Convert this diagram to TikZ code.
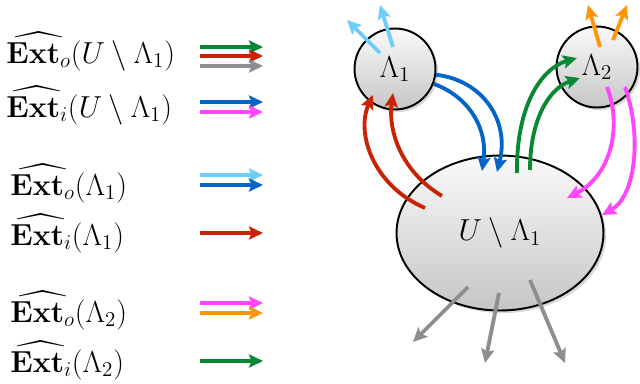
\documentclass[tikz,border=0pt]{standalone}
\usepackage{amsmath}
\usepackage{amssymb}
\usepackage{tikz}
\usetikzlibrary{arrows.meta,shapes.geometric,shadows}

\definecolor{cgreen}{RGB}{10,135,50}
\definecolor{cred}{RGB}{200,35,5}
\definecolor{cgray}{RGB}{140,142,146}
\definecolor{cblue}{RGB}{5,100,200}
\definecolor{cmag}{RGB}{255,70,255}
\definecolor{ccyan}{RGB}{110,205,250}
\definecolor{corange}{RGB}{255,150,10}

\newcommand{\Exto}{\widehat{\mathbf{Ext}_o}}
\newcommand{\Exti}{\widehat{\mathbf{Ext}_i}}

\begin{document}
\begin{tikzpicture}[x=0.02cm, y=-0.02cm,
  arr/.style={line width=2.2pt, -{Stealth[length=8pt,width=7.5pt,inset=1.5pt]}},
  blob/.style={draw, line width=1.1pt, top color=gray!4, bottom color=gray!45,
    drop shadow={opacity=0.3,shadow xshift=1.5pt,shadow yshift=-1.5pt},
    inner sep=0pt, font=\fontsize{18}{22}\selectfont},
  lbl/.style={anchor=base west, inner sep=0pt, font=\fontsize{18.5}{22}\selectfont}]
  \useasboundingbox (0,0) rectangle (640,383);

  % legend
  \node[lbl] (e0) at (6,63) {$\Exto(U\setminus\Lambda_1)$};
  \node[lbl] (e1) at (6,117) {$\Exti(U\setminus\Lambda_1)$};
  \node[lbl] (e2) at (10,195) {$\Exto(\Lambda_1)$};
  \node[lbl] (e3) at (10,245) {$\Exti(\Lambda_1)$};
  \node[lbl] (e4) at (10,322) {$\Exto(\Lambda_2)$};
  \node[lbl] (e5) at (10,372) {$\Exti(\Lambda_2)$};
  \foreach \y/\c [count=\i] in {47/cgreen,56/cred,66/cgray,102/cblue,112/cmag,
      175/ccyan,185/cblue,233/cred,303/cmag,313/corange,361/cgreen} {
    \coordinate (ka\i) at (200,\y);
    \coordinate (kb\i) at (263,\y);
    \draw[arr,\c] (ka\i) -- (kb\i);
  }

  % sets
  \node[blob, circle, minimum size=1.62cm] (l1) at (395,69) {$\Lambda_1$};
  \node[blob, circle, minimum size=1.62cm] (l2) at (597,67) {$\Lambda_2$};
  \node[blob, ellipse, minimum width=4.14cm, minimum height=3.1cm] (u) at (500,233) {$U\setminus\Lambda_1$};

  % out of Lambda_1
  \coordinate (p1) at (380,53); \coordinate (q1) at (347,20);
  \coordinate (p2) at (393,47); \coordinate (q2) at (380,5);
  \draw[arr,ccyan] (p1) -- (q1);
  \draw[arr,ccyan] (p2) -- (q2);
  \coordinate (q3) at (497,172);
  \coordinate (q4) at (482,171);
  \draw[arr,cblue] (l1.-8) .. controls (482,80) and (510,120) .. (q3);
  \draw[arr,cblue] (l1.-21) .. controls (470,97) and (488,130) .. (q4);

  % out of Lambda_2
  \coordinate (p5) at (600,47); \coordinate (q5) at (588,5);
  \coordinate (p6) at (613,40); \coordinate (q6) at (627,5);
  \draw[arr,corange] (p5) -- (q5);
  \draw[arr,corange] (p6) -- (q6);
  \coordinate (p7) at (607,87); \coordinate (q7) at (567,198);
  \coordinate (p8) at (625,87); \coordinate (q8) at (602,215);
  \draw[arr,cmag] (p7) .. controls (622,125) and (612,175) .. (q7);
  \draw[arr,cmag] (p8) .. controls (642,135) and (636,196) .. (q8);

  % out of U minus Lambda_1
  \coordinate (p9) at (517,173); \coordinate (q9) at (577,58);
  \coordinate (p10) at (530,170); \coordinate (q10) at (580,78);
  \draw[arr,cgreen] (p9) .. controls (516,105) and (542,68) .. (q9);
  \draw[arr,cgreen] (p10) .. controls (530,118) and (550,88) .. (q10);
  \coordinate (p11) at (442,196); \coordinate (q11) at (393,93);
  \coordinate (p12) at (425,208); \coordinate (q12) at (373,95);
  \draw[arr,cred] (p11) .. controls (402,172) and (388,132) .. (q11);
  \draw[arr,cred] (p12) .. controls (372,185) and (356,132) .. (q12);
  \coordinate (p13) at (468,287); \coordinate (q13) at (413,342);
  \coordinate (p14) at (499,293); \coordinate (q14) at (485,363);
  \coordinate (p15) at (530,280); \coordinate (q15) at (565,363);
  \draw[arr,cgray] (p13) -- (q13);
  \draw[arr,cgray] (p14) -- (q14);
  \draw[arr,cgray] (p15) -- (q15);
\end{tikzpicture}
\end{document}
